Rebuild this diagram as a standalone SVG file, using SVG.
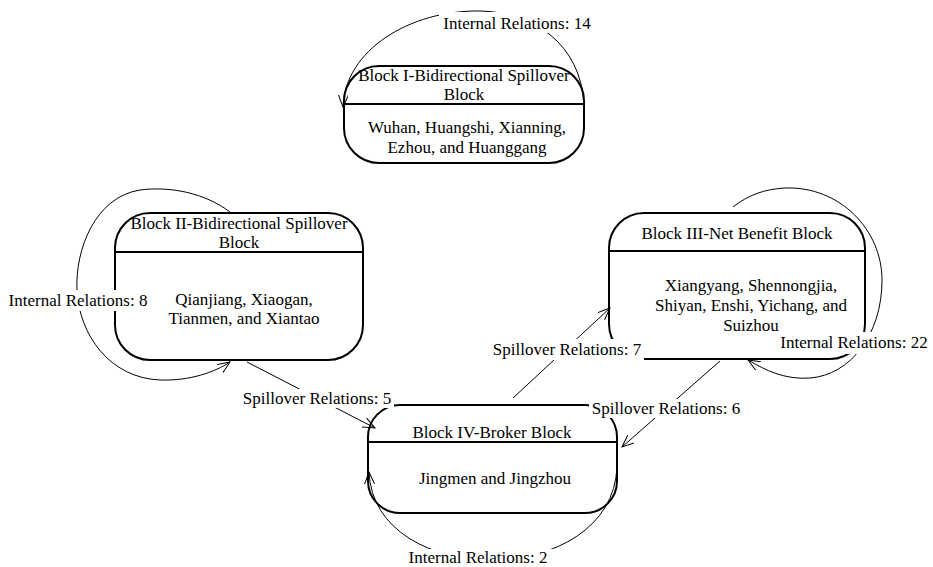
<svg xmlns="http://www.w3.org/2000/svg" width="933" height="567" viewBox="0 0 933 567">
<style>
text{font-family:"Liberation Serif","Times New Roman",serif;font-size:17px;fill:#000;text-anchor:middle}
.blk{fill:none;stroke:#000;stroke-width:2}
.div{stroke:#000;stroke-width:2}
.con{fill:none;stroke:#000;stroke-width:1}
.lbg{fill:#fff;stroke:none}
</style>
<defs>
<marker id="arr" markerUnits="userSpaceOnUse" markerWidth="14" markerHeight="12" refX="12" refY="5" orient="auto">
<path d="M0,0 L12,5 L0,10" fill="none" stroke="#000" stroke-width="1"/>
</marker>
</defs>
<rect width="933" height="567" fill="#fff"/>
<g id="block1">
<rect class="blk" x="344" y="66" width="240" height="97" rx="35" ry="35"/>
<line class="div" x1="344" y1="104" x2="584" y2="104"/>
<text x="464" y="81">Block I-Bidirectional Spillover</text>
<text x="464" y="100">Block</text>
<text x="467" y="133">Wuhan, Huangshi, Xianning,</text>
<text x="467" y="153">Ezhou, and Huanggang</text>
</g>
<g id="block2">
<rect class="blk" x="115" y="213" width="248" height="147" rx="35" ry="35"/>
<line class="div" x1="115" y1="252" x2="363" y2="252"/>
<text x="239" y="229">Block II-Bidirectional Spillover</text>
<text x="239" y="248">Block</text>
<text x="244" y="305">Qianjiang, Xiaogan,</text>
<text x="244" y="324">Tianmen, and Xiantao</text>
</g>
<g id="block3">
<rect class="blk" x="609" y="213" width="256" height="146" rx="35" ry="35"/>
<line class="div" x1="609" y1="251" x2="865" y2="251"/>
<text x="737" y="239">Block III-Net Benefit Block</text>
<text x="751" y="291">Xiangyang, Shennongjia,</text>
<text x="751" y="311">Shiyan, Enshi, Yichang, and</text>
<text x="751" y="331">Suizhou</text>
</g>
<g id="block4">
<rect class="blk" x="368" y="405" width="249" height="108" rx="32" ry="32"/>
<line class="div" x1="368" y1="442" x2="617" y2="442"/>
<text x="492" y="438">Block IV-Broker Block</text>
<text x="495" y="484">Jingmen and Jingzhou</text>
</g>
<g id="connectors">
<path class="con" marker-end="url(#arr)" d="M584,103 C580,45 535,12 480,11 C410,10 345,50 343,107"/>
<path class="con" marker-end="url(#arr)" d="M230,212 C205,193 170,186 140,190 C95,197 75,250 77,290 C79,335 110,378 160,380 C190,381 215,372 230,362"/>
<path class="con" marker-end="url(#arr)" d="M733,207 C748,195 765,189 785,188 C840,186 882,230 882,280 C882,335 850,375 810,378 C785,380 765,370 748,360"/>
<path class="con" marker-end="url(#arr)" d="M617,467 C612,590 374,590 369,472"/>
<line class="con" marker-end="url(#arr)" x1="247" y1="362" x2="375" y2="428"/>
<line class="con" marker-end="url(#arr)" x1="513" y1="398" x2="610" y2="308"/>
<line class="con" marker-end="url(#arr)" x1="720" y1="361" x2="622" y2="447"/>
<rect class="lbg" x="439" y="12" width="157" height="21"/>
<text x="517" y="29">Internal Relations: 14</text>
<rect class="lbg" x="5" y="290" width="146" height="21"/>
<text x="78" y="306">Internal Relations: 8</text>
<rect class="lbg" x="776" y="332" width="157" height="22"/>
<text x="854" y="348">Internal Relations: 22</text>
<rect class="lbg" x="490" y="339" width="154" height="21"/>
<text x="567" y="355">Spillover Relations: 7</text>
<rect class="lbg" x="240" y="389" width="154" height="19"/>
<text x="317" y="404">Spillover Relations: 5</text>
<rect class="lbg" x="589" y="399" width="154" height="19"/>
<text x="666" y="414">Spillover Relations: 6</text>
<rect class="lbg" x="403" y="549" width="150" height="18"/>
<text x="478" y="563">Internal Relations: 2</text>
</g>
</svg>
